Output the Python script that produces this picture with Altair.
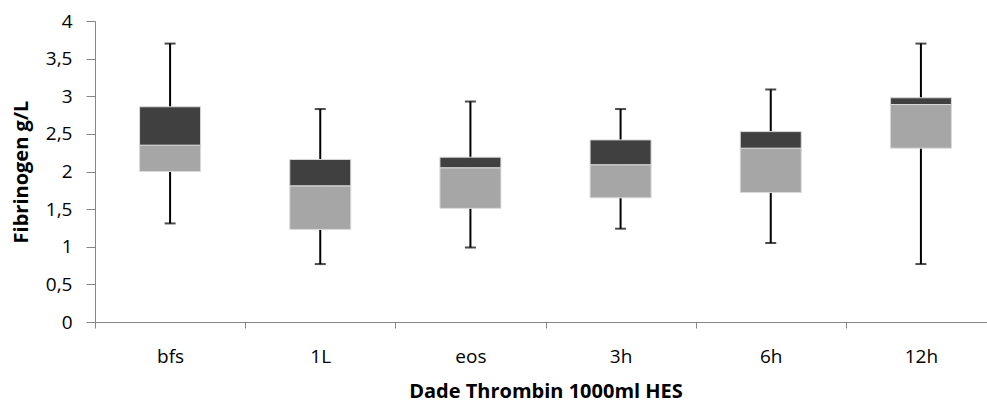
import altair as alt
import pandas as pd

# Fibrinogen (g/L) per sampling time, Dade Thrombin, 1000 ml HES
times = ["bfs", "1L", "eos", "3h", "6h", "12h"]
whisker_low = [1.31, 0.77, 0.99, 1.24, 1.05, 0.77]
quartile1 = [2.00, 1.23, 1.51, 1.65, 1.72, 2.31]
median = [2.35, 1.81, 2.05, 2.09, 2.31, 2.89]
quartile3 = [2.86, 2.16, 2.19, 2.42, 2.53, 2.98]
whisker_high = [3.70, 2.83, 2.93, 2.83, 3.09, 3.70]
y_ticks = [0, 0.5, 1, 1.5, 2, 2.5, 3, 3.5, 4]

df = pd.DataFrame({
    "time": times,
    "lo": whisker_low,
    "q1": quartile1,
    "med": median,
    "q3": quartile3,
    "hi": whisker_high,
})

FONT = "Open Sans"
AXIS_GREY = "#868686"

x_enc = alt.X(
    "time:N",
    sort=times,
    scale=alt.Scale(range=[0, 901], paddingInner=0, paddingOuter=0),
    axis=alt.Axis(
        title="Dade Thrombin 1000ml HES",
        labelAngle=0,
        tickBand="extent",
        tickSize=6,
        labelPadding=19,
        titlePadding=15,
        domainColor=AXIS_GREY,
        tickColor=AXIS_GREY,
        labelFontSize=19,
        titleFontSize=20,
        labelColor="#000000",
        titleColor="#000000",
    ),
)

y_scale = alt.Scale(domain=[0, 4], nice=False, zero=True)
y_axis = alt.Axis(
    title="Fibrinogen g/L",
    values=y_ticks,
    labelExpr="replace(toString(datum.value), '.', ',')",
    labelOverlap=False,
    grid=False,
    tickSize=9,
    labelPadding=14,
    titlePadding=14,
    domainColor=AXIS_GREY,
    tickColor=AXIS_GREY,
    labelFontSize=19,
    titleFontSize=20,
    labelColor="#000000",
    titleColor="#000000",
)


def y_enc(field):
    return alt.Y(field, type="quantitative", scale=y_scale, axis=y_axis)


base = alt.Chart(df)

whisker = base.mark_rule(color="#000000", strokeWidth=2).encode(
    x=x_enc, y=y_enc("lo"), y2="hi:Q"
)

cap_lo = base.mark_tick(color="#000000", size=11, thickness=2).encode(
    x=x_enc, y=y_enc("lo")
)
cap_hi = base.mark_tick(color="#000000", size=11, thickness=2).encode(
    x=x_enc, y=y_enc("hi")
)

lower_box = base.mark_bar(
    size=61, color="#A6A6A6", stroke="#D9D9D9", strokeWidth=1
).encode(x=x_enc, y=y_enc("q1"), y2="med:Q")

upper_box = base.mark_bar(
    size=61, color="#404040", stroke="#D9D9D9", strokeWidth=1
).encode(x=x_enc, y=y_enc("med"), y2="q3:Q")

chart = (
    alt.layer(whisker, cap_lo, cap_hi, lower_box, upper_box)
    .resolve_axis(y="shared")
    .properties(
        width=892,
        height=301,
        autosize=alt.AutoSizeParams(type="none"),
        padding={"left": 95, "top": 21, "right": 0, "bottom": 83},
        background="#FFFFFF",
    )
    .configure_view(stroke=None)
    .configure_axis(labelFont=FONT, titleFont=FONT, titleFontWeight="bold")
)

chart.save("out.html", embed_options={"renderer": "svg", "actions": False})
